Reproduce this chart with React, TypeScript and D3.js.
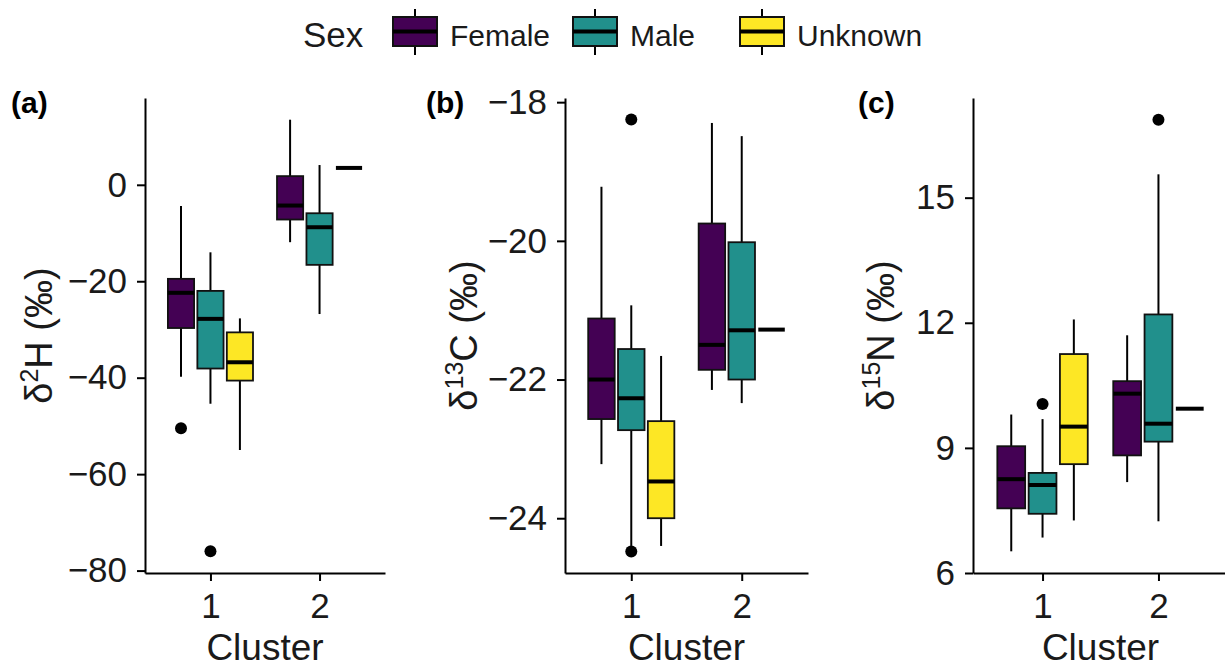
import React, { useEffect, useRef } from 'react';
import * as d3 from 'd3';

// categories
const clusters = ['1', '2'];
const sexes = ['Female', 'Male', 'Unknown'];
const sexColors = ['#440154', '#21908C', '#FDE725'];

// box stats per sex, per cluster: [min, q1, median, q3, max]
const hFemale = [[-39.8, -29.7, -22.4, -19.5, -4.4], [-11.9, -7.2, -4.3, 1.8, 13.5]];
const hMale = [[-45.4, -38.1, -27.8, -22.0, -14.0], [-26.8, -16.6, -8.8, -5.9, 4.1]];
const hUnknown = [[-55.0, -40.6, -36.8, -30.6, -27.7], [3.5, 3.5, 3.5, 3.5, 3.5]];
// outliers: [sex index, cluster index, value]
const hOutliers = [[0, 0, -50.5], [1, 0, -76.0]];
const hTicks = [0, -20, -40, -60, -80];
const hDomain = [-80.5, 18];

const cFemale = [[-23.22, -22.57, -22.0, -21.12, -19.22], [-22.15, -21.86, -21.5, -19.75, -18.3]];
const cMale = [[-24.4, -22.73, -22.27, -21.56, -20.93], [-22.34, -22.0, -21.29, -20.02, -18.49]];
const cUnknown = [[-24.4, -24.0, -23.47, -22.6, -21.66], [-21.28, -21.28, -21.28, -21.28, -21.28]];
const cOutliers = [[1, 0, -18.25], [1, 0, -24.48]];
const cTicks = [-18, -20, -22, -24];
const cDomain = [-24.79, -17.94];

const nFemale = [[6.52, 7.55, 8.25, 9.04, 9.8], [8.18, 8.82, 10.3, 10.6, 11.7]];
const nMale = [[6.85, 7.42, 8.11, 8.4, 9.69], [7.24, 9.15, 9.58, 12.2, 15.56]];
const nUnknown = [[7.26, 8.61, 9.51, 11.25, 12.08], [9.94, 9.94, 9.94, 9.94, 9.94]];
const nOutliers = [[1, 0, 10.05], [1, 1, 16.87]];
const nTicks = [6, 9, 12, 15];
const nDomain = [6, 17.39];

const FONT = "'Liberation Sans', Arial, sans-serif";

const panels = [
  { tag: '(a)', iso: '2', el: 'H', stats: [hFemale, hMale, hUnknown], outliers: hOutliers, ticks: hTicks, domain: hDomain, left: 145, right: 385, tagX: 11, titleX: 52 },
  { tag: '(b)', iso: '13', el: 'C', stats: [cFemale, cMale, cUnknown], outliers: cOutliers, ticks: cTicks, domain: cDomain, left: 565, right: 808, tagX: 426, titleX: 477 },
  { tag: '(c)', iso: '15', el: 'N', stats: [nFemale, nMale, nUnknown], outliers: nOutliers, ticks: nTicks, domain: nDomain, left: 973, right: 1228, tagX: 858, titleX: 894 },
];

export default function App() {
  const ref = useRef<SVGSVGElement>(null);

  useEffect(() => {
    const svg = d3.select(ref.current);
    svg.selectAll('*').remove();
    const top = 98;
    const bottom = 573;

    panels.forEach((p) => {
      const g = svg.append('g');
      const y = d3.scaleLinear().domain(p.domain).range([bottom, top]);
      const x = d3.scalePoint().domain(clusters).range([p.left, p.right]).padding(0.6);
      const step = x.step();
      const bw = 0.24 * step;
      const off = 0.27 * step;

      sexes.forEach((s, i) => {
        p.stats[i].forEach((st, j) => {
          const cx = (x(clusters[j]) as number) + (i - 1) * off;
          const [mn, q1, md, q3, mx] = st;
          g.append('line').attr('x1', cx).attr('x2', cx).attr('y1', y(mx)).attr('y2', y(q3))
            .attr('stroke', '#000').attr('stroke-width', 2);
          g.append('line').attr('x1', cx).attr('x2', cx).attr('y1', y(q1)).attr('y2', y(mn))
            .attr('stroke', '#000').attr('stroke-width', 2);
          g.append('rect').attr('x', cx - bw / 2).attr('y', y(q3)).attr('width', bw)
            .attr('height', y(q1) - y(q3)).attr('fill', sexColors[i])
            .attr('stroke', '#111').attr('stroke-width', 1.8);
          g.append('line').attr('x1', cx - bw / 2).attr('x2', cx + bw / 2).attr('y1', y(md)).attr('y2', y(md))
            .attr('stroke', '#000').attr('stroke-width', 4);
        });
      });

      p.outliers.forEach(([si, ci, v]) => {
        const cx = (x(clusters[ci]) as number) + (si - 1) * off;
        g.append('circle').attr('cx', cx).attr('cy', y(v)).attr('r', 6).attr('fill', '#000');
      });

      const yAxis = g.append('g').attr('transform', `translate(${p.left},0)`)
        .call(d3.axisLeft(y).tickValues(p.ticks).tickSize(8).tickSizeOuter(0).tickPadding(10).tickFormat(d3.format('d')));
      const xAxis = g.append('g').attr('transform', `translate(0,${bottom})`)
        .call(d3.axisBottom(x).tickSize(8).tickSizeOuter(0).tickPadding(12));
      [yAxis, xAxis].forEach((a) => {
        a.select('.domain').attr('stroke', '#000').attr('stroke-width', 2);
        a.selectAll('.tick line').attr('stroke', '#000').attr('stroke-width', 2);
        a.selectAll('.tick text').attr('font-size', 35).attr('font-family', FONT).attr('fill', '#1a1a1a');
      });

      g.append('text').attr('x', (p.left + p.right) / 2).attr('y', 660).attr('text-anchor', 'middle')
        .attr('font-size', 37).attr('font-family', FONT).attr('fill', '#1a1a1a').text('Cluster');

      const title = g.append('text').attr('transform', `translate(${p.titleX},${(top + bottom) / 2}) rotate(-90)`)
        .attr('text-anchor', 'middle').attr('font-size', 38).attr('font-family', FONT).attr('fill', '#1a1a1a');
      title.append('tspan').text('δ');
      title.append('tspan').attr('font-size', 25).attr('dy', -14).text(p.iso);
      title.append('tspan').attr('dy', 14).text(`${p.el} (‰)`);

      g.append('text').attr('x', p.tagX).attr('y', 113).attr('font-size', 30).attr('font-weight', 'bold')
        .attr('font-family', FONT).attr('fill', '#000').text(p.tag);
    });

    // legend
    const lg = svg.append('g');
    lg.append('text').attr('x', 303).attr('y', 47).attr('font-size', 35).attr('font-family', FONT)
      .attr('fill', '#1a1a1a').text('Sex');
    const keyX = [393, 573, 740];
    sexes.forEach((s, i) => {
      const kx = keyX[i];
      const cx = kx + 22;
      lg.append('line').attr('x1', cx).attr('x2', cx).attr('y1', 9).attr('y2', 55).attr('stroke', '#000').attr('stroke-width', 2);
      lg.append('rect').attr('x', kx).attr('y', 17).attr('width', 44).attr('height', 29)
        .attr('fill', sexColors[i]).attr('stroke', '#111').attr('stroke-width', 2);
      lg.append('line').attr('x1', kx).attr('x2', kx + 44).attr('y1', 31.5).attr('y2', 31.5).attr('stroke', '#000').attr('stroke-width', 4);
      lg.append('text').attr('x', kx + 57).attr('y', 46).attr('font-size', 30).attr('font-family', FONT)
        .attr('fill', '#1a1a1a').text(s);
    });
  }, []);

  return (
    <svg ref={ref} width={1225} height={670}
      style={{ position: 'absolute', left: 0, top: 0, background: '#fff' }} />
  );
}
